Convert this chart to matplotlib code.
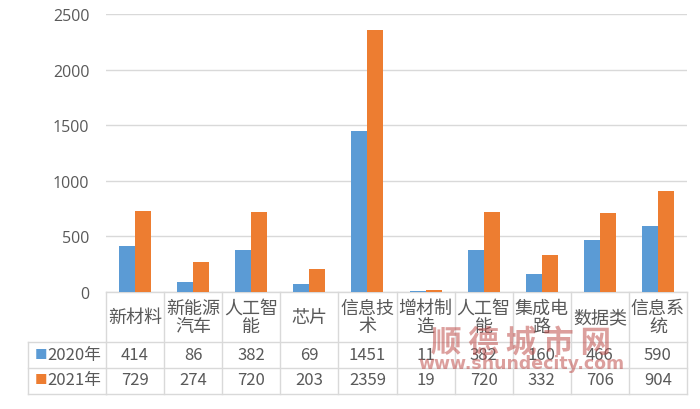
import numpy as np
import matplotlib
matplotlib.use("Agg")
import matplotlib.pyplot as plt
import matplotlib.transforms as mtransforms

plt.rcParams['font.family'] = ['Noto Sans CJK SC', 'DejaVu Sans']

# Dados
categorias = ["新材料", "新能源\n汽车", "人工智\n能", "芯片", "信息技\n术",
              "增材制\n造", "人工智\n能", "集成电\n路", "数据类", "信息系\n统"]
series_nomes = ["2020年", "2021年"]
valores_2020 = [414, 86, 382, 69, 1451, 11, 382, 160, 466, 590]
valores_2021 = [729, 274, 720, 203, 2359, 19, 720, 332, 706, 904]
yticks = [0, 500, 1000, 1500, 2000, 2500]

cor_azul = "#5B9BD5"
cor_laranja = "#ED7D31"
cor_texto = "#595959"
cor_grade = "#D9D9D9"

W, H = 700, 410
fig = plt.figure(figsize=(7, 4.1), dpi=100)
fig.patch.set_facecolor("white")

# area do grafico em pixels
x0, x1 = 106, 687
y_top, y_zero = 15, 293
ax = fig.add_axes([x0 / W, 1 - y_zero / H, (x1 - x0) / W, (y_zero - y_top) / H])

n = len(categorias)
x = np.arange(n)
largura = 0.275
ax.bar(x - largura / 2, valores_2020, largura, color=cor_azul, zorder=3)
ax.bar(x + largura / 2, valores_2021, largura, color=cor_laranja, zorder=3)

ax.set_xlim(-0.5, n - 0.5)
ax.set_ylim(0, 2500)
ax.set_yticks(yticks)
ax.set_yticklabels([str(v) for v in yticks], fontsize=11.5, color=cor_texto,
                   family=['Open Sans', 'DejaVu Sans'])
ax.tick_params(axis='y', length=0, pad=12)
ax.set_xticks([])
ax.grid(axis='y', color=cor_grade, linewidth=1, zorder=0)
for s in ["top", "right", "left"]:
    ax.spines[s].set_visible(False)
ax.spines["bottom"].set_color(cor_grade)
ax.spines["bottom"].set_linewidth(1)


def fy(py):
    # pixel y -> fracao do eixo
    return (y_zero - py) / (y_zero - y_top)


trans = mtransforms.blended_transform_factory(ax.transData, ax.transAxes)
linha = dict(color=cor_grade, linewidth=1, clip_on=False)

# tabela de dados
y_cat_bot, y_r1_bot, y_r2_bot = 343, 369, 395
for i in range(n + 1):
    ax.plot([i - 0.5, i - 0.5], [fy(y_zero), fy(y_r2_bot)], transform=trans, **linha)
for py in [y_cat_bot, y_r1_bot, y_r2_bot]:
    ax.plot([-0.5, n - 0.5], [fy(py), fy(py)], transform=trans, **linha)

# coluna da esquerda
x_esq = 28
tf = ax.transAxes
xa = (x_esq - x0) / (x1 - x0)
ax.plot([xa, 0], [fy(y_cat_bot)] * 2, transform=tf, **linha)
ax.plot([xa, 0], [fy(y_r1_bot)] * 2, transform=tf, **linha)
ax.plot([xa, 0], [fy(y_r2_bot)] * 2, transform=tf, **linha)
ax.plot([xa, xa], [fy(y_cat_bot), fy(y_r2_bot)], transform=tf, **linha)

for i, cat in enumerate(categorias):
    ax.text(i, fy(318), cat, transform=trans, ha='center', va='center',
            fontsize=13, color=cor_texto, linespacing=1.05)
for i in range(n):
    ax.text(i, fy(356), str(valores_2020[i]), transform=trans, ha='center',
            va='center', fontsize=12, color=cor_texto)
    ax.text(i, fy(381), str(valores_2021[i]), transform=trans, ha='center',
            va='center', fontsize=12, color=cor_texto)

for nome, cor, py in [(series_nomes[0], cor_azul, 356), (series_nomes[1], cor_laranja, 381)]:
    ax.text((41 - x0) / (x1 - x0), fy(py), "■", transform=tf, ha='center',
            va='center', fontsize=9, color=cor)
    ax.text((101 - x0) / (x1 - x0), fy(py), nome, transform=tf, ha='right',
            va='center', fontsize=12, color=cor_texto)

# marca d'agua
fig.text(521 / W, 1 - 343 / H, "顺 德 城 市 网", ha='center', va='center',
         fontsize=22, fontweight='bold', color="#C0504D", alpha=0.55)
fig.text(521 / W, 1 - 364 / H, "www.shundecity.com", ha='center', va='center',
         fontsize=12.5, fontweight='bold', color="#C0504D", alpha=0.55,
         family=['DejaVu Sans'])

fig.savefig("out.png", dpi=100, facecolor="white")
